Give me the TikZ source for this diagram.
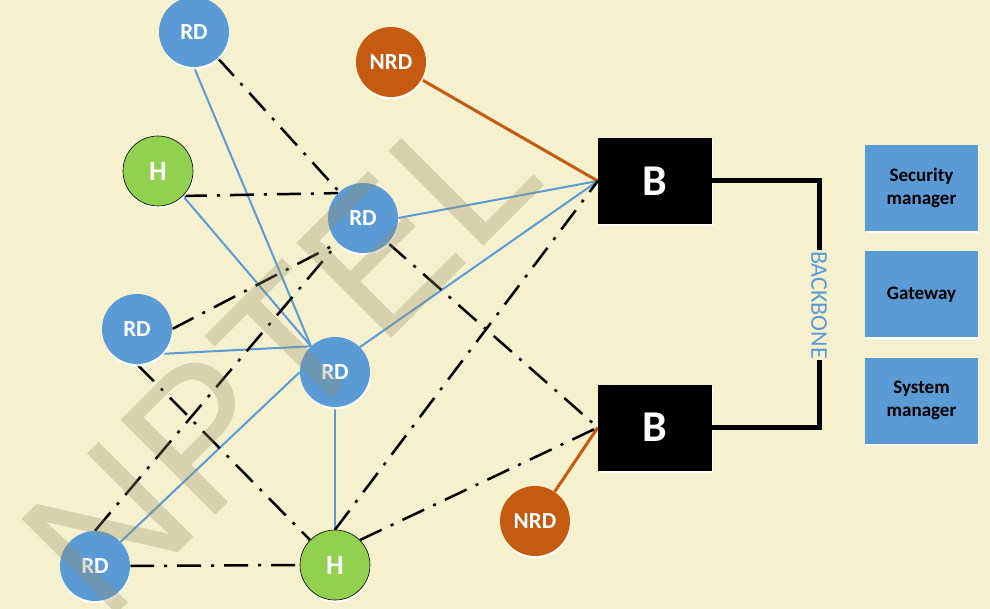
\documentclass[tikz,border=0pt]{standalone}
\usepackage{fontspec}
\setmainfont{Carlito}
\newfontfamily\wmfont{Liberation Sans}
\usetikzlibrary{shadows}
\definecolor{bgc}{HTML}{F5F0CD}
\definecolor{rdblue}{HTML}{5B9BD5}
\definecolor{nrdor}{HTML}{C55A11}
\definecolor{hgreen}{HTML}{92D050}
\definecolor{wmc}{RGB}{150,140,100}
\pgfdeclarelayer{bg}
\pgfdeclarelayer{wm}
\pgfsetlayers{bg,main,wm}
\tikzset{
 glow/.style={drop shadow={shadow xshift=0.6pt, shadow yshift=-2.5pt, fill=white, opacity=0.85}},
 rdnode/.style={circle, fill=rdblue, minimum size=70pt, inner sep=0pt, text=white, font=\fontsize{23}{25}\selectfont\bfseries, glow},
 nrdnode/.style={rdnode, fill=nrdor},
 hnode/.style={rdnode, fill=hgreen, draw=black, line width=0.6pt, font=\fontsize{28}{30}\selectfont\bfseries},
 bnode/.style={fill=black, minimum width=114pt, minimum height=86pt, inner sep=0pt, text=white, font=\fontsize{44}{46}\selectfont\bfseries, glow},
 mgr/.style={fill=rdblue, minimum width=113pt, minimum height=86pt, inner sep=0pt, align=center, font=\fontsize{19}{23}\selectfont\bfseries, glow},
 blueln/.style={draw=rdblue, line width=2pt},
 orln/.style={draw=nrdor, line width=3pt},
 ddln/.style={draw=black, line width=2.5pt, dash pattern=on 24pt off 10pt on 3pt off 10pt},
 bbln/.style={draw=black, line width=5pt},
}
\begin{document}
\begin{tikzpicture}[x=1pt,y=1pt]
\useasboundingbox (0,0) rectangle (990,-609);
\begin{pgfonlayer}{bg}
\fill[bgc] (0,0) rectangle (990,-609);
\end{pgfonlayer}
% nodes
\node[rdnode] (RD1) at (194,-32) {RD};
\node[nrdnode] (NRD1) at (391,-62) {NRD};
\node[hnode] (H1) at (158,-171) {H};
\node[rdnode] (RD2) at (363,-218) {RD};
\node[rdnode] (RD3) at (137,-329) {RD};
\node[rdnode] (RD4) at (335,-372) {RD};
\node[rdnode] (RD5) at (95,-566) {RD};
\node[hnode] (H2) at (335,-565) {H};
\node[nrdnode] (NRD2) at (535,-521) {NRD};
\node[bnode] (B1) at (655,-181) {B};
\node[bnode] (B2) at (655,-427.5) {B};
\node[mgr] (SM) at (921.5,-188) {Security\\manager};
\node[mgr] (GW) at (921.5,-294.5) {Gateway};
\node[mgr] (SYS) at (921.5,-400.5) {System\\manager};
\node[rotate=-90, text=rdblue, font=\fontsize{24}{24}\selectfont, inner sep=1pt] (BB) at (819,-305) {BACKBONE};
% connectors
\begin{pgfonlayer}{bg}
\draw[blueln] (RD1.south) -- (RD4.133);
\draw[blueln] (H1.-45) -- (RD4.133);
\draw[blueln] (RD3.-45) -- (RD4.133);
\draw[blueln] (RD2.east) -- (B1.west);
\draw[blueln] (RD4.45) -- (B1.west);
\draw[blueln] (RD4.south) -- (H2.north);
\draw[blueln] (RD5) -- (RD4.west);
\draw[orln] (NRD1) -- (B1.west);
\draw[orln] (NRD2) -- (B2.west);
\draw[ddln] (RD1) -- (RD2);
\draw[ddln] (H1.-45) -- (RD2.135);
\draw[ddln] (RD3.east) -- (RD2.225);
\draw[ddln] (RD5.north) -- (RD2.225);
\draw[ddln] (RD2.-45) -- (B2.west);
\draw[ddln] (RD3.south) -- (H2.135);
\draw[ddln] (RD5.east) -- (H2.west);
\draw[ddln] (H2.north) -- (B1.west);
\draw[ddln] (H2.45) -- (B2.west);
\end{pgfonlayer}
\draw[bbln] (B1.east) -| (BB.west);
\draw[bbln] (BB.east) |- (B2.east);
% watermark
\begin{pgfonlayer}{wm}
\node[rotate=45, text=wmc, text opacity=0.3, font=\wmfont\fontsize{195}{195}\selectfont, inner sep=0pt] (WM) at (280,-356) {NPTEL};
\end{pgfonlayer}
\end{tikzpicture}
\end{document}
